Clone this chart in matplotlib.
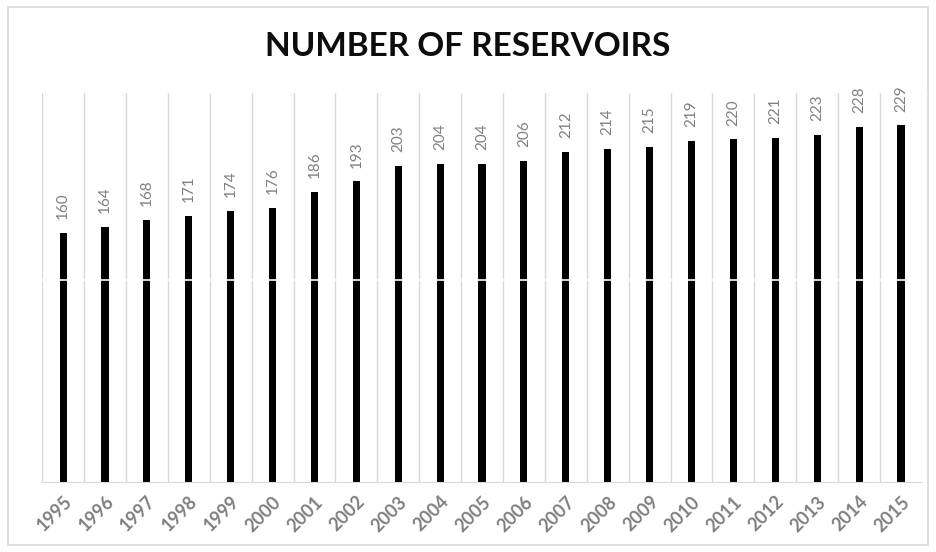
import matplotlib
matplotlib.use("Agg")
import matplotlib.pyplot as plt
from matplotlib.patches import Rectangle

years = [str(y) for y in range(1995, 2016)]
reservoirs = [160, 164, 168, 171, 174, 176, 186, 193, 203, 204, 204, 206,
              212, 214, 215, 219, 220, 221, 223, 228, 229]
title = "NUMBER OF RESERVOIRS"

plt.rcParams['font.family'] = ['Lato', 'DejaVu Sans']

fig = plt.figure(figsize=(9.36, 5.52), dpi=100)
fig.patches.append(Rectangle((0.009, 0.012), 0.982, 0.975, transform=fig.transFigure,
                             fill=False, edgecolor='#d9d9d9', linewidth=1.2))
ax = fig.add_axes([0.045, 0.127, 0.94, 0.705])

x = list(range(len(years)))
ax.bar(x, reservoirs, width=0.17, color='black', zorder=2)
for xi, v in zip(x, reservoirs):
    ax.annotate(str(v), (xi, v), xytext=(0, 10), textcoords='offset points',
                rotation=90, ha='center', va='bottom', fontsize=11, color='#808080')

for b in [i - 0.5 for i in range(len(years) + 1)]:
    ax.axvline(b, color='#d9d9d9', linewidth=1, zorder=1)
ax.axhline(130, color='white', linewidth=1.2, zorder=3)

ax.set_xlim(-0.5, len(years) - 0.5)
ax.set_ylim(0, 250)
ax.set_yticks([])
ax.set_xticks(x)
ax.set_xticklabels(years, rotation=45, ha='right', rotation_mode='anchor',
                   fontsize=13, fontweight='bold', color='#7f7f7f')
ax.tick_params(axis='x', length=0, pad=8)
for s in ['top', 'right', 'left']:
    ax.spines[s].set_visible(False)
ax.spines['bottom'].set_color('#d9d9d9')

fig.text(0.5, 0.915, title, ha='center', va='center', fontsize=24,
         fontweight='bold', color='#0d0d0d')

fig.savefig('out.png', dpi=100)
